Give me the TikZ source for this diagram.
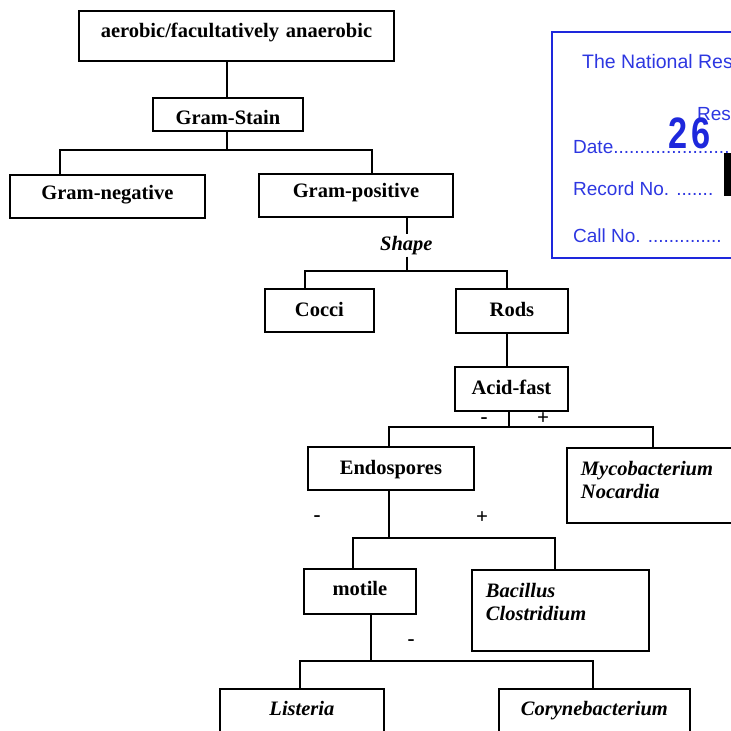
\documentclass[tikz,border=0pt]{standalone}
\usepackage{fontspec}
\setmainfont{Liberation Serif}
\newfontfamily\stampfont{Liberation Sans}
\definecolor{stampblue}{RGB}{30,40,220}
\definecolor{stamptext}{RGB}{45,55,225}
\begin{document}
\begin{tikzpicture}[x=1pt,y=-1pt,
  box/.style={draw, line width=1.9pt, inner sep=0pt, anchor=north west, align=center,
    font=\fontsize{20.5}{22.5}\selectfont\bfseries},
  ibox/.style={box, align=left, inner xsep=14pt,
    font=\fontsize{20.5}{22.5}\selectfont\bfseries\itshape},
  cbox/.style={box, font=\fontsize{20.5}{22.5}\selectfont\bfseries\itshape},
  conn/.style={line width=1.9pt},
  lbl/.style={inner sep=2pt, anchor=base west, font=\fontsize{20.5}{22.5}\selectfont\bfseries\itshape},
  sgn/.style={inner sep=0pt, font=\fontsize{21}{21}\selectfont\bfseries},
  stxt/.style={text=stamptext, inner sep=0pt, anchor=base west, font=\stampfont\fontsize{19}{19}\selectfont}]
\useasboundingbox (0,0) rectangle (731,731);
\clip (0,0) rectangle (731,731);

% ---- boxes ----
\node[box, text width=315pt, text height=27pt, text depth=23pt] (top) at (78,10) {aerobic/facultatively anaerobic};
\node[box, text width=150pt, text height=27pt, text depth=6pt] (gs) at (152,97) {Gram-Stain};
\node[box, text width=195pt, text height=25pt, text depth=18pt] (gneg) at (9,174) {Gram-negative};
\node[box, text width=194pt, text height=24pt, text depth=19pt] (gpos) at (258,173) {Gram-positive};
\node[lbl] (shp) at (378,250) {Shape};
\node[box, text width=109pt, text height=28pt, text depth=15pt] (cocci) at (264,288) {Cocci};
\node[box, text width=112pt, text height=28pt, text depth=16pt] (rods) at (455,288) {Rods};
\node[box, text width=113pt, text height=28pt, text depth=16pt] (acid) at (454,366) {Acid-fast};
\node[box, text width=166pt, text height=28pt, text depth=15pt] (endo) at (307,446) {Endospores};
\node[ibox, text width=172pt, text height=28pt, text depth=47pt] (myco) at (566,447) {Mycobacterium\\Nocardia};
\node[box, text width=112pt, text height=27pt, text depth=18pt] (motile) at (303,568) {motile};
\node[ibox, text width=149pt, text height=28pt, text depth=53pt] (bac) at (471,569) {Bacillus\\Clostridium};
\node[cbox, text width=164pt, text height=27pt, text depth=25pt] (list) at (219,688) {Listeria};
\node[cbox, text width=191pt, text height=27pt, text depth=25pt] (cory) at (498,688) {Corynebacterium};

% ---- junctions ----
\coordinate (j1) at (227,150);
\coordinate (b1) at (60,150);
\coordinate (b2) at (372,150);
\coordinate (j2) at (407,271);
\coordinate (b3) at (305,271);
\coordinate (b4) at (507,271);
\coordinate (j3) at (509,427);
\coordinate (b5) at (389,427);
\coordinate (b6) at (653,427);
\coordinate (j4) at (389,538);
\coordinate (b7) at (353,538);
\coordinate (b8) at (555,538);
\coordinate (j5) at (371,661);
\coordinate (b9) at (300,661);
\coordinate (b10) at (593,661);

% ---- connectors ----
\draw[conn] (j1 |- top.south) -- (j1 |- gs.north);
\draw[conn] (j1 |- gs.south) -- (j1);
\draw[conn] (b1 |- gneg.north) -- (b1) -- (b2) -- (b2 |- gpos.north);
\draw[conn] (j2 |- gpos.south) -- (j2 |- shp.north);
\draw[conn] (j2 |- shp.south) -- (j2);
\draw[conn] (b3 |- cocci.north) -- (b3) -- (b4) -- (b4 |- rods.north);
\draw[conn] (b4 |- rods.south) -- (b4 |- acid.north);
\draw[conn] (j3 |- acid.south) -- (j3);
\draw[conn] (b5 |- endo.north) -- (b5) -- (b6) -- (b6 |- myco.north);
\draw[conn] (j4 |- endo.south) -- (j4);
\draw[conn] (b7 |- motile.north) -- (b7) -- (b8) -- (b8 |- bac.north);
\draw[conn] (j5 |- motile.south) -- (j5);
\draw[conn] (b9 |- list.north) -- (b9) -- (b10) -- (b10 |- cory.north);

% ---- signs ----
\node[sgn] (s1) at (484,421) {-};
\node[sgn] (s2) at (543,419) {+};
\node[sgn] (s3) at (317,519) {-};
\node[sgn] (s4) at (482,518) {+};
\node[sgn] (s5) at (411,643) {-};

% ---- stamp ----
\draw[stampblue, line width=2pt] (552,32) rectangle (790,258);
\node[stxt, font=\stampfont\fontsize{19.5}{19.5}\selectfont] (st1) at (582,68) {The National Res};
\node[stxt] (st2) at (697,120) {Res};
\node[inner sep=0pt, anchor=base west, text=stampblue, font=\stampfont\bfseries\fontsize{44}{44}\selectfont, xscale=0.78, transform shape] (st3) at (668,148) {2\hspace{6pt}6};
\node[stxt] (st4) at (573,153) {Date.......................};
\node[stxt] (st5) at (573,195) {Record No. .......};
\node[stxt] (st6) at (573,242) {Call No. ..............};
\fill[black] (724,153) rectangle (740,196);
\end{tikzpicture}
\end{document}
